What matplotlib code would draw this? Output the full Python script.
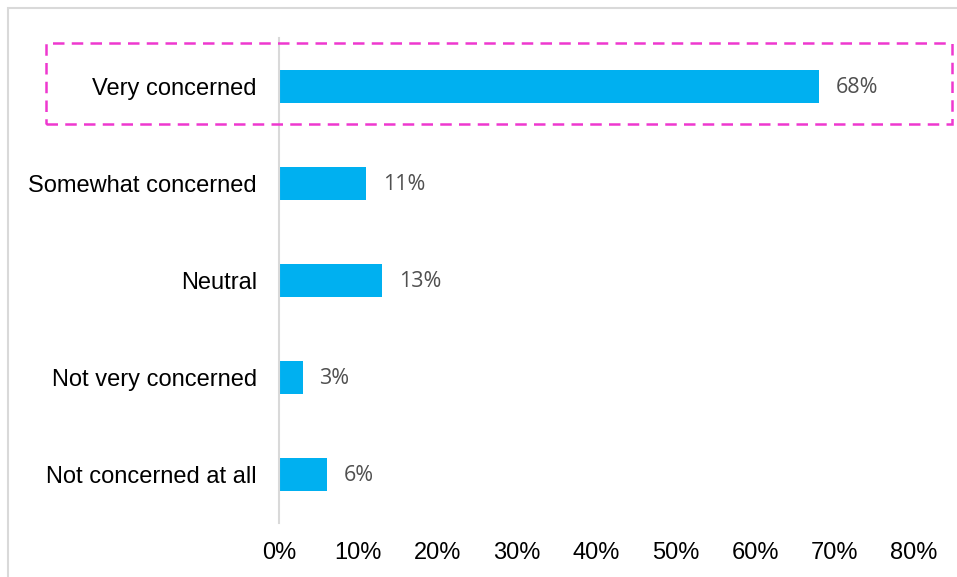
import matplotlib.pyplot as plt
import matplotlib.patches as patches
import numpy as np

# survey responses and their share of respondents (%)
categories = ["Very concerned", "Somewhat concerned", "Neutral",
              "Not very concerned", "Not concerned at all"]
values = [68, 11, 13, 3, 6]
xticks = [0, 10, 20, 30, 40, 50, 60, 70, 80]
xtick_labels = ["%d%%" % t for t in xticks]

W, H = 957, 577
fig = plt.figure(figsize=(W / 100, H / 100), dpi=100)
ax = fig.add_axes([279 / W, 1 - 523 / H, (914 - 279) / W, (523 - 38) / H])

y = np.arange(len(categories))
ax.barh(y, values, height=0.34, color="#00B0F0")
ax.set_ylim(len(categories) - 0.5, -0.5)
ax.set_xlim(0, 80)

for i, v in enumerate(values):
    ax.annotate("%d%%" % v, xy=(v, i), xytext=(12, -1), textcoords="offset points",
                va="center", ha="left", fontsize=15.5, color="#505050",
                family="Open Sans")

ax.set_yticks(y)
ax.set_yticklabels(categories, fontsize=17, family="Liberation Sans")
ax.set_xticks(xticks)
ax.set_xticklabels(xtick_labels, fontsize=17, family="Liberation Sans")
ax.tick_params(axis="y", length=0, pad=16)
ax.tick_params(axis="x", length=0, pad=14)

for s in ["top", "right", "bottom"]:
    ax.spines[s].set_visible(False)
ax.spines["left"].set_color("#D9D9D9")
ax.spines["left"].set_linewidth(1.5)

# chart area frame (right and bottom edges fall outside the canvas)
frame = patches.Rectangle((8 / W, -0.05), 1.02 - 8 / W, 1 - 8 / H + 0.05,
                          transform=fig.transFigure, fill=False,
                          edgecolor="#D9D9D9", linewidth=1.5, clip_on=False)
fig.add_artist(frame)

# dashed highlight round the top row
box = patches.Rectangle((46 / W, 1 - 124 / H), (952 - 46) / W, (124 - 43) / H,
                        transform=fig.transFigure, fill=False,
                        edgecolor="#EE38CF", linewidth=1.8,
                        linestyle=(0, (4.6, 2.9)), clip_on=False)
fig.add_artist(box)

fig.savefig("out.png", dpi=100)
